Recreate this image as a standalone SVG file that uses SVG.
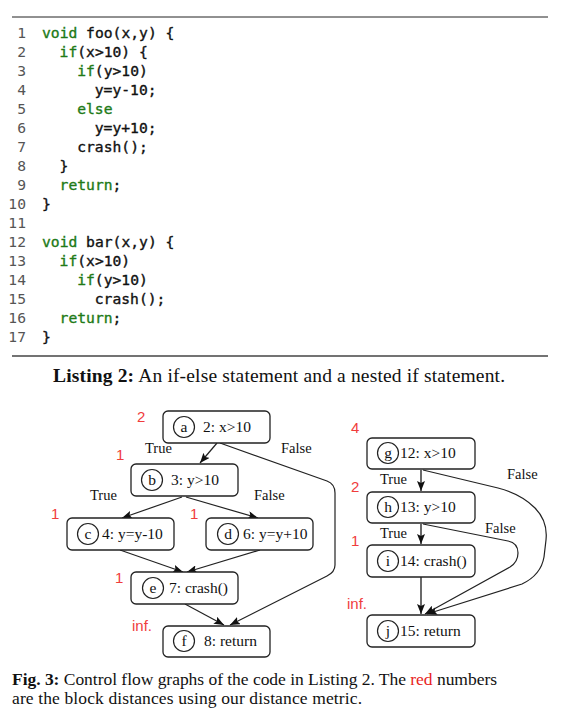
<svg xmlns="http://www.w3.org/2000/svg" width="574" height="719" viewBox="0 0 574 719">
<defs>
<marker id="arr" viewBox="0 0 10 8" refX="10" refY="4" markerWidth="10" markerHeight="8" markerUnits="userSpaceOnUse" orient="auto">
<path d="M0,0 L10,4 L0,8 L2,4 z" fill="#111"/>
</marker>
<style>
.code{font-family:"DejaVu Sans Mono","Liberation Mono",monospace;font-size:14.67px;fill:#111;stroke:#111;stroke-width:0.35;}
.ln{font-family:"DejaVu Sans Mono","Liberation Mono",monospace;font-size:14.67px;fill:#555;text-anchor:end;}
.kw{fill:#217a17;stroke:#217a17;}
.box{fill:#fff;stroke:#222;stroke-width:1.3;}
.circ{fill:none;stroke:#222;stroke-width:1.2;}
.nt{font-family:"Liberation Serif","Times New Roman",serif;font-size:15.5px;fill:#111;}
.cl{font-family:"Liberation Serif","Times New Roman",serif;font-size:15.5px;fill:#111;text-anchor:middle;}
.el{font-family:"Liberation Serif","Times New Roman",serif;font-size:14.5px;fill:#111;}
.red{font-family:"Liberation Sans",Arial,sans-serif;font-size:15px;fill:#f03c3c;}
.edge{fill:none;stroke:#222;stroke-width:1.2;marker-end:url(#arr);}
.vedge{fill:none;stroke:#444;stroke-width:1.6;marker-end:url(#arr);}
.cap{font-family:"Liberation Serif","Times New Roman",serif;font-size:17.5px;fill:#111;}
.cap2{font-family:"Liberation Serif","Times New Roman",serif;font-size:19.5px;fill:#111;}
</style>
</defs>
<rect width="574" height="719" fill="#fff"/>

<!-- Listing -->
<g id="listing">
<line x1="12" y1="17" x2="548" y2="17" stroke="#222" stroke-width="1"/>
<g class="ln">
<text x="26" y="38">1</text><text x="26" y="57">2</text><text x="26" y="76">3</text><text x="26" y="95">4</text><text x="26" y="114">5</text><text x="26" y="133">6</text><text x="26" y="152">7</text><text x="26" y="171">8</text><text x="26" y="190">9</text><text x="26" y="209">10</text><text x="26" y="228">11</text><text x="26" y="247">12</text><text x="26" y="266">13</text><text x="26" y="285">14</text><text x="26" y="304">15</text><text x="26" y="323">16</text><text x="26" y="342">17</text>
</g>
<g class="code">
<text x="42" y="38"><tspan class="kw">void</tspan> foo(x,y) {</text>
<text x="59.6" y="57"><tspan class="kw">if</tspan>(x&gt;10) {</text>
<text x="77.2" y="76"><tspan class="kw">if</tspan>(y&gt;10)</text>
<text x="94.8" y="95">y=y-10;</text>
<text x="77.2" y="114"><tspan class="kw">else</tspan></text>
<text x="94.8" y="133">y=y+10;</text>
<text x="77.2" y="152">crash();</text>
<text x="59.6" y="171">}</text>
<text x="59.6" y="190"><tspan class="kw">return</tspan>;</text>
<text x="42" y="209">}</text>
<text x="42" y="247"><tspan class="kw">void</tspan> bar(x,y) {</text>
<text x="59.6" y="266"><tspan class="kw">if</tspan>(x&gt;10)</text>
<text x="77.2" y="285"><tspan class="kw">if</tspan>(y&gt;10)</text>
<text x="94.8" y="304">crash();</text>
<text x="59.6" y="323"><tspan class="kw">return</tspan>;</text>
<text x="42" y="342">}</text>
</g>
<line x1="12" y1="356" x2="548" y2="356" stroke="#444" stroke-width="1.5"/>
<text class="cap2" x="53" y="382" textLength="452" lengthAdjust="spacing"><tspan font-weight="bold">Listing 2:</tspan> An if-else statement and a nested if statement.</text>
</g>

<!-- connectors -->
<g id="connectors">
<path class="edge" d="M217,443 L200,463"/>
<path class="edge" d="M220,443 L327,481 Q335,484 335,493 L335,565 Q335,572 327,576 L230,625"/>
<path class="edge" d="M182,497 L122,518"/>
<path class="edge" d="M186,497 L258,518"/>
<path class="edge" d="M120,550 L183,572"/>
<path class="edge" d="M260,550 L187,572"/>
<path class="edge" d="M185,604 L224,625"/>
<path class="vedge" d="M421,470 L421,491"/>
<path class="vedge" d="M421,524 L421,544"/>
<path class="vedge" d="M421,577 L421,614"/>
<path class="edge" d="M423,470 L498,488 Q521,494 535,508 Q548,521 546,540 L544,557 Q541,575 522,584 L427,614"/>
<path class="edge" d="M423,524 L508,541 Q518,543 518,553 Q518,562 510,567 L425,614"/>
</g>

<!-- edge labels -->
<g id="edge-labels" class="el">
<text x="145" y="453">True</text>
<text x="281" y="453">False</text>
<text x="90" y="500">True</text>
<text x="254" y="500">False</text>
<text x="380" y="484">True</text>
<text x="507" y="479">False</text>
<text x="380" y="538">True</text>
<text x="485" y="533">False</text>
</g>

<!-- distances -->
<g id="distances" class="red">
<text x="137" y="422">2</text>
<text x="116" y="460">1</text>
<text x="51" y="519">1</text>
<text x="190" y="519">1</text>
<text x="115" y="583">1</text>
<text x="132" y="631">inf.</text>
<text x="351" y="433">4</text>
<text x="351" y="492">2</text>
<text x="351" y="546">1</text>
<text x="347" y="609">inf.</text>
</g>

<!-- nodes -->
<g id="node-a"><rect class="box" x="163" y="411" width="107" height="32" rx="5"/><circle class="circ" cx="184" cy="427" r="10.5"/><text class="cl" x="184" y="432">a</text><text class="nt" x="203" y="432">2: x&gt;10</text></g>
<g id="node-b"><rect class="box" x="131" y="464" width="107" height="32" rx="5"/><circle class="circ" cx="152" cy="480" r="10.5"/><text class="cl" x="152" y="485">b</text><text class="nt" x="171" y="485">3: y&gt;10</text></g>
<g id="node-c"><rect class="box" x="67" y="518" width="107" height="32" rx="5"/><circle class="circ" cx="88" cy="534" r="10.5"/><text class="cl" x="88" y="539">c</text><text class="nt" x="102" y="539">4: y=y-10</text></g>
<g id="node-d"><rect class="box" x="206" y="518" width="107" height="32" rx="5"/><circle class="circ" cx="228" cy="534" r="10.5"/><text class="cl" x="228" y="539">d</text><text class="nt" x="243" y="539">6: y=y+10</text></g>
<g id="node-e"><rect class="box" x="131" y="572" width="107" height="32" rx="5"/><circle class="circ" cx="153" cy="588" r="10.5"/><text class="cl" x="153" y="593">e</text><text class="nt" x="169" y="593">7: crash()</text></g>
<g id="node-f"><rect class="box" x="163" y="626" width="107" height="31" rx="5"/><circle class="circ" cx="184" cy="641" r="10.5"/><text class="cl" x="184" y="646">f</text><text class="nt" x="204" y="646">8: return</text></g>
<g id="node-g"><rect class="box" x="367" y="438" width="108" height="31" rx="5"/><circle class="circ" cx="388" cy="453" r="10.5"/><text class="cl" x="388" y="458">g</text><text class="nt" x="400" y="458">12: x&gt;10</text></g>
<g id="node-h"><rect class="box" x="367" y="492" width="108" height="31" rx="5"/><circle class="circ" cx="388" cy="507" r="10.5"/><text class="cl" x="388" y="512">h</text><text class="nt" x="400" y="512">13: y&gt;10</text></g>
<g id="node-i"><rect class="box" x="367" y="545" width="108" height="32" rx="5"/><circle class="circ" cx="388" cy="561" r="10.5"/><text class="cl" x="388" y="566">i</text><text class="nt" x="400" y="566">14: crash()</text></g>
<g id="node-j"><rect class="box" x="367" y="615" width="108" height="32" rx="5"/><circle class="circ" cx="388" cy="631" r="10.5"/><text class="cl" x="388" y="636">j</text><text class="nt" x="400" y="636">15: return</text></g>

<!-- figure caption -->
<g id="caption" class="cap">
<text x="12" y="685" textLength="485" lengthAdjust="spacing"><tspan font-weight="bold">Fig. 3:</tspan> Control flow graphs of the code in Listing 2. The <tspan fill="#e8241c">red</tspan> numbers</text>
<text x="12" y="704" textLength="350" lengthAdjust="spacing">are the block distances using our distance metric.</text>
</g>
</svg>
